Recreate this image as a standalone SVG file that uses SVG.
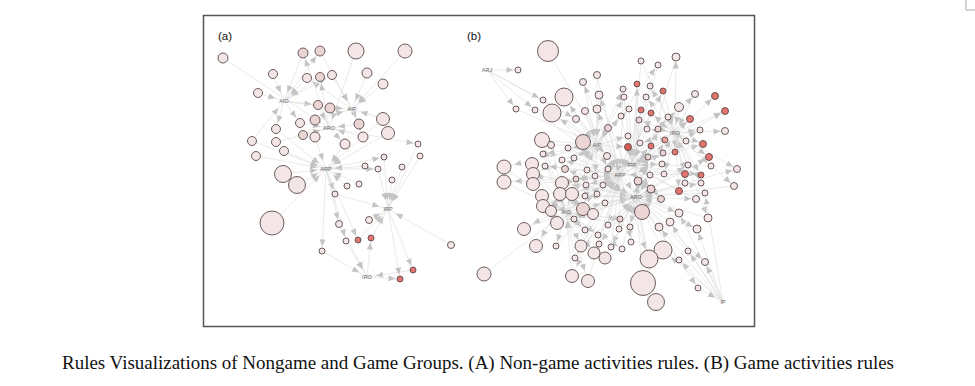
<svg xmlns="http://www.w3.org/2000/svg" width="975" height="386" viewBox="0 0 975 386">
<style>
#edges path{stroke:#dcdcdc;stroke-width:.6;fill:none}
.h{marker-end:url(#h)}.s{marker-end:url(#s)}.m{marker-end:url(#m)}.l{marker-end:url(#l)}
marker path{fill:#c4c4c4}
circle{stroke:#5c4b4b;stroke-width:.9;fill:#f4e6e6}
circle.c2{fill:#ebd4d4}circle.r{fill:#e2736e}circle.d{fill:#d55a56}circle.k{fill:#ec9d99}
.hub{font-family:"Liberation Sans",Arial,sans-serif;font-size:5.5px;fill:#666;text-anchor:middle}
.pl{font-family:"Liberation Sans",Arial,sans-serif;font-size:11.5px;fill:#111}
.cap{font-family:"Liberation Serif","Times New Roman",serif;font-size:18px;fill:#111}
</style>
<defs>
<marker id="h" markerUnits="userSpaceOnUse" markerWidth="30" markerHeight="8" refX="16" refY="3" orient="auto" overflow="visible"><path d="M0,0L7,3L0,6z"/></marker>
<marker id="s" markerUnits="userSpaceOnUse" markerWidth="30" markerHeight="8" refX="11.5" refY="3" orient="auto" overflow="visible"><path d="M0,0L7,3L0,6z"/></marker>
<marker id="m" markerUnits="userSpaceOnUse" markerWidth="30" markerHeight="8" refX="13.5" refY="3" orient="auto" overflow="visible"><path d="M0,0L7,3L0,6z"/></marker>
<marker id="l" markerUnits="userSpaceOnUse" markerWidth="30" markerHeight="8" refX="17.5" refY="3" orient="auto" overflow="visible"><path d="M0,0L7,3L0,6z"/></marker>
</defs>
<rect width="975" height="386" fill="#fff"/>
<path d="M966 0V10H975" fill="none" stroke="#aaa" stroke-width="1"/>
<rect x="203.5" y="15.5" width="551" height="311" fill="#fff" stroke="#555" stroke-width="1.5"/>
<text class="pl" x="218" y="40">(a)</text>
<text class="pl" x="467" y="40">(b)</text>
<g id="edges">
<path class="h" d="M223 58L329 128"/><path class="h" d="M303 53L284 101"/><path class="m" d="M329 128L303 53"/>
<path class="h" d="M320 51L352 109"/><path class="m" d="M284 101L320 51"/><path class="h" d="M356 51L329 128"/>
<path class="h" d="M405 51L352 109"/><path class="h" d="M273 74L284 101"/><path class="h" d="M307 78L284 101"/>
<path class="m" d="M352 109L307 78"/><path class="m" d="M329 128L320 77"/><path class="h" d="M320 77L284 101"/>
<path class="h" d="M332 75L352 109"/><path class="m" d="M284 101L332 75"/><path class="h" d="M367 73L352 109"/>
<path class="h" d="M383 84L352 109"/><path class="h" d="M258 93L284 101"/><path class="m" d="M284 101L318 105"/>
<path class="h" d="M318 105L329 128"/><path class="h" d="M330 108L352 109"/><path class="m" d="M284 101L330 108"/>
<path class="h" d="M383 119L352 109"/><path class="h" d="M383 119L326 169"/><path class="m" d="M284 101L300 123"/>
<path class="h" d="M300 123L329 128"/><path class="h" d="M315 120L352 109"/><path class="m" d="M352 109L359 124"/>
<path class="h" d="M359 124L329 128"/><path class="m" d="M284 101L276 129"/><path class="h" d="M276 129L326 169"/>
<path class="h" d="M303 135L329 128"/><path class="h" d="M315 137L326 169"/><path class="h" d="M363 137L329 128"/>
<path class="m" d="M352 109L363 137"/><path class="h" d="M388 133L326 169"/><path class="h" d="M252 141L284 101"/>
<path class="h" d="M252 141L326 169"/><path class="h" d="M276 142L329 128"/><path class="h" d="M284 151L326 169"/>
<path class="m" d="M329 128L345 144"/><path class="h" d="M345 144L326 169"/><path class="h" d="M418 144L388 209"/>
<path class="s" d="M329 128L418 144"/><path class="h" d="M256 156L326 169"/><path class="h" d="M384 157L388 209"/>
<path class="s" d="M326 169L384 157"/><path class="h" d="M420 156L388 209"/><path class="h" d="M365 166L326 169"/>
<path class="h" d="M378 169L388 209"/><path class="s" d="M326 169L378 169"/><path class="h" d="M402 167L388 209"/>
<path class="h" d="M283 174L326 169"/><path class="h" d="M297 185L326 169"/><path class="h" d="M347 186L326 169"/>
<path class="h" d="M359 184L326 169"/><path class="h" d="M392 180L388 209"/><path class="h" d="M335 194L388 209"/>
<path class="s" d="M326 169L335 194"/><path class="h" d="M272 223L326 169"/><path class="h" d="M369 220L388 209"/>
<path class="s" d="M326 169L339 224"/><path class="h" d="M339 224L367 277"/><path class="h" d="M358 240L388 209"/>
<path class="s" d="M326 169L358 240"/><path class="h" d="M371 238L388 209"/><path class="s" d="M367 277L371 238"/>
<path class="h" d="M346 241L367 277"/><path class="s" d="M326 169L346 241"/><path class="h" d="M451 245L388 209"/>
<path class="h" d="M322 251L367 277"/><path class="s" d="M326 169L322 251"/><path class="s" d="M388 209L413 270"/>
<path class="s" d="M367 277L400 279"/><path class="h" d="M413 270L367 277"/><path class="s" d="M388 209L400 279"/>

<path class="h" d="M548 51L620 175"/><path class="s" d="M487 70L518 70"/>
<path class="h" d="M641 61L632 165"/><path class="h" d="M641 61L675 133"/>
<path class="h" d="M658 65L632 165"/><path class="s" d="M597 145L658 65"/>
<path class="h" d="M676 57L636 197"/><path class="s" d="M675 133L676 57"/>
<path class="h" d="M597 75L597 145"/><path class="h" d="M597 75L620 175"/>
<path class="h" d="M583 82L597 145"/><path class="s" d="M620 175L583 82"/>
<path class="h" d="M637 84L632 165"/><path class="s" d="M636 197L637 84"/>
<path class="h" d="M623 89L620 175"/><path class="s" d="M597 145L623 89"/>
<path class="h" d="M650 86L632 165"/><path class="s" d="M675 133L650 86"/>
<path class="h" d="M663 91L675 133"/><path class="s" d="M620 175L663 91"/>
<path class="h" d="M564 97L620 175"/><path class="l" d="M597 145L564 97"/>
<path class="h" d="M599 95L597 145"/><path class="s" d="M636 197L599 95"/>
<path class="h" d="M624 97L632 165"/><path class="s" d="M597 145L624 97"/>
<path class="h" d="M646 97L620 175"/><path class="s" d="M675 133L646 97"/>
<path class="h" d="M695 94L675 133"/><path class="s" d="M632 165L695 94"/>
<path class="s" d="M675 133L715 96"/>
<path class="s" d="M487 70L543 100"/><path class="h" d="M543 100L597 145"/>
<path class="s" d="M487 70L516 109"/><path class="h" d="M516 109L597 145"/>
<path class="s" d="M487 70L535 110"/><path class="h" d="M535 110L620 175"/>
<path class="h" d="M552 113L620 175"/><path class="l" d="M597 145L552 113"/>
<path class="h" d="M585 111L597 145"/><path class="h" d="M585 111L636 197"/>
<path class="h" d="M597 109L597 145"/><path class="s" d="M620 175L597 109"/>
<path class="h" d="M629 109L632 165"/><path class="s" d="M597 145L629 109"/>
<path class="h" d="M641 110L632 165"/><path class="h" d="M641 110L675 133"/>
<path class="h" d="M651 113L620 175"/><path class="s" d="M675 133L651 113"/>
<path class="h" d="M679 107L675 133"/><path class="m" d="M620 175L679 107"/>
<path class="s" d="M675 133L725 111"/><path class="s" d="M632 165L725 111"/>
<path class="h" d="M576 119L597 145"/><path class="s" d="M487 70L576 119"/>
<path class="h" d="M621 116L632 165"/><path class="s" d="M597 145L621 116"/>
<path class="h" d="M639 120L636 197"/><path class="s" d="M675 133L639 120"/>
<path class="h" d="M668 117L675 133"/><path class="s" d="M620 175L668 117"/>
<path class="s" d="M675 133L690 119"/><path class="s" d="M632 165L690 119"/>
<path class="h" d="M608 128L597 145"/><path class="h" d="M608 128L620 175"/>
<path class="h" d="M647 129L632 165"/><path class="s" d="M675 133L647 129"/>
<path class="h" d="M658 129L675 133"/><path class="s" d="M636 197L658 129"/>
<path class="s" d="M675 133L700 130"/><path class="s" d="M632 165L700 130"/>
<path class="s" d="M675 133L725 131"/>
<path class="h" d="M542 140L597 145"/><path class="l" d="M566 212L542 140"/>
<path class="h" d="M583 142L620 175"/><path class="l" d="M632 165L583 142"/>
<path class="h" d="M628 136L632 165"/><path class="s" d="M597 145L628 136"/>
<path class="h" d="M640 143L620 175"/><path class="s" d="M675 133L640 143"/>
<path class="h" d="M651 146L675 133"/><path class="s" d="M632 165L651 146"/>
<path class="h" d="M665 140L632 165"/><path class="s" d="M636 197L665 140"/>
<path class="s" d="M675 133L686 141"/><path class="s" d="M620 175L686 141"/>
<path class="s" d="M675 133L703 144"/><path class="s" d="M632 165L703 144"/>
<path class="h" d="M628 147L620 175"/><path class="s" d="M597 145L628 147"/>
<path class="h" d="M551 145L597 145"/><path class="s" d="M566 212L551 145"/>
<path class="h" d="M568 148L620 175"/><path class="s" d="M597 145L568 148"/>
<path class="h" d="M607 156L620 175"/><path class="s" d="M597 145L607 156"/>
<path class="h" d="M648 157L636 197"/><path class="s" d="M632 165L648 157"/>
<path class="h" d="M663 153L675 133"/><path class="s" d="M620 175L663 153"/>
<path class="h" d="M675 152L632 165"/><path class="s" d="M675 133L675 152"/>
<path class="s" d="M675 133L709 157"/><path class="s" d="M636 197L709 157"/>
<path class="h" d="M543 154L566 212"/><path class="s" d="M597 145L543 154"/>
<path class="h" d="M574 158L620 175"/><path class="s" d="M597 145L574 158"/>
<path class="h" d="M504 167L566 212"/><path class="l" d="M597 145L504 167"/>
<path class="h" d="M532 164L620 175"/><path class="l" d="M566 212L532 164"/>
<path class="h" d="M562 160L597 145"/><path class="s" d="M620 175L562 160"/>
<path class="h" d="M662 164L636 197"/><path class="s" d="M632 165L662 164"/>
<path class="h" d="M688 165L675 133"/><path class="s" d="M636 197L688 165"/>
<path class="h" d="M711 166L632 165"/><path class="s" d="M675 133L711 166"/>
<path class="s" d="M675 133L737 169"/><path class="s" d="M636 197L737 169"/>
<path class="h" d="M533 174L636 197"/><path class="l" d="M597 145L533 174"/>
<path class="h" d="M545 166L566 212"/><path class="s" d="M620 175L545 166"/>
<path class="h" d="M565 169L597 145"/><path class="s" d="M636 197L565 169"/>
<path class="h" d="M587 170L620 175"/><path class="s" d="M566 212L587 170"/>
<path class="h" d="M608 169L632 165"/><path class="s" d="M597 145L608 169"/>
<path class="h" d="M685 174L620 175"/><path class="s" d="M675 133L685 174"/>
<path class="s" d="M675 133L701 175"/><path class="s" d="M632 165L701 175"/>
<path class="h" d="M650 175L636 197"/><path class="s" d="M632 165L650 175"/>
<path class="h" d="M664 174L632 165"/><path class="s" d="M675 133L664 174"/>
<path class="h" d="M504 182L566 212"/><path class="l" d="M620 175L504 182"/>
<path class="h" d="M533 184L620 175"/><path class="l" d="M566 212L533 184"/>
<path class="h" d="M576 179L566 212"/><path class="s" d="M620 175L576 179"/>
<path class="h" d="M595 176L636 197"/><path class="s" d="M597 145L595 176"/>
<path class="h" d="M638 181L632 165"/><path class="s" d="M636 197L638 181"/>
<path class="h" d="M685 183L636 197"/><path class="s" d="M675 133L685 183"/>
<path class="s" d="M675 133L701 183"/><path class="s" d="M636 197L701 183"/>
<path class="h" d="M734 186L636 197"/><path class="s" d="M675 133L734 186"/>
<path class="h" d="M562 183L597 145"/><path class="l" d="M636 197L562 183"/>
<path class="h" d="M586 185L566 212"/><path class="s" d="M620 175L586 185"/>
<path class="h" d="M603 185L620 175"/><path class="s" d="M566 212L603 185"/>
<path class="h" d="M651 189L636 197"/><path class="s" d="M632 165L651 189"/>
<path class="h" d="M679 191L632 165"/><path class="s" d="M675 133L679 191"/>
<path class="h" d="M705 193L636 197"/><path class="s" d="M723 302L705 193"/>
<path class="h" d="M542 196L620 175"/><path class="l" d="M566 212L542 196"/>
<path class="h" d="M560 194L636 197"/><path class="l" d="M597 145L560 194"/>
<path class="h" d="M572 194L597 145"/><path class="l" d="M620 175L572 194"/>
<path class="h" d="M585 196L566 212"/><path class="s" d="M636 197L585 196"/>
<path class="h" d="M597 194L620 175"/><path class="s" d="M566 212L597 194"/>
<path class="h" d="M661 199L636 197"/><path class="s" d="M632 165L661 199"/>
<path class="h" d="M696 199L632 165"/><path class="s" d="M636 197L696 199"/>
<path class="h" d="M605 203L636 197"/><path class="s" d="M566 212L605 203"/>
<path class="h" d="M543 206L566 212"/><path class="l" d="M620 175L543 206"/>
<path class="h" d="M551 211L620 175"/><path class="m" d="M636 197L551 211"/>
<path class="h" d="M583 209L636 197"/><path class="l" d="M597 145L583 209"/>
<path class="h" d="M593 214L620 175"/><path class="m" d="M566 212L593 214"/>
<path class="h" d="M642 212L636 197"/><path class="l" d="M620 175L642 212"/>
<path class="s" d="M636 197L679 213"/><path class="s" d="M723 302L679 213"/>
<path class="h" d="M708 218L636 197"/><path class="s" d="M675 133L708 218"/>
<path class="h" d="M557 223L636 197"/><path class="l" d="M620 175L557 223"/>
<path class="h" d="M574 219L620 175"/><path class="s" d="M636 197L574 219"/>
<path class="h" d="M620 219L636 197"/><path class="s" d="M566 212L620 219"/>
<path class="h" d="M670 222L636 197"/><path class="s" d="M723 302L670 222"/>
<path class="h" d="M608 225L620 175"/><path class="s" d="M636 197L608 225"/>
<path class="h" d="M619 229L636 197"/><path class="s" d="M620 175L619 229"/>
<path class="h" d="M630 227L566 212"/><path class="s" d="M636 197L630 227"/>
<path class="h" d="M659 227L636 197"/><path class="s" d="M723 302L659 227"/>
<path class="s" d="M636 197L697 229"/><path class="s" d="M723 302L697 229"/>
<path class="h" d="M524 229L566 212"/><path class="l" d="M620 175L524 229"/>
<path class="h" d="M585 230L620 175"/><path class="s" d="M566 212L585 230"/>
<path class="h" d="M598 235L636 197"/><path class="s" d="M566 212L598 235"/>
<path class="h" d="M631 242L636 197"/><path class="s" d="M620 175L631 242"/>
<path class="h" d="M599 244L566 212"/><path class="s" d="M636 197L599 244"/>
<path class="h" d="M536 246L566 212"/><path class="l" d="M597 145L536 246"/>
<path class="h" d="M556 246L620 175"/><path class="s" d="M566 212L556 246"/>
<path class="h" d="M581 246L636 197"/><path class="m" d="M566 212L581 246"/>
<path class="h" d="M611 247L620 175"/><path class="s" d="M636 197L611 247"/>
<path class="h" d="M622 249L636 197"/><path class="s" d="M566 212L622 249"/>
<path class="h" d="M663 250L636 197"/><path class="l" d="M723 302L663 250"/>
<path class="s" d="M723 302L688 251"/><path class="h" d="M688 251L636 197"/>
<path class="h" d="M594 253L620 175"/><path class="m" d="M566 212L594 253"/>
<path class="h" d="M605 258L636 197"/><path class="m" d="M566 212L605 258"/>
<path class="h" d="M575 258L566 212"/><path class="s" d="M620 175L575 258"/>
<path class="h" d="M649 259L636 197"/><path class="l" d="M620 175L649 259"/>
<path class="h" d="M679 260L636 197"/><path class="s" d="M723 302L679 260"/>
<path class="s" d="M723 302L705 262"/><path class="s" d="M636 197L705 262"/>
<path class="h" d="M484 274L566 212"/>
<path class="h" d="M572 276L566 212"/><path class="l" d="M620 175L572 276"/>
<path class="h" d="M588 281L620 175"/><path class="l" d="M566 212L588 281"/>
<path class="h" d="M643 283L636 197"/>
<path class="h" d="M698 288L723 302"/><path class="s" d="M636 197L698 288"/>
<path class="h" d="M656 302L636 197"/>
</g>
<g id="nodes-a">
<g id="a1"><circle cx="223" cy="58" r="5"/></g><g id="a2"><circle class="c2" cx="303" cy="53" r="5"/></g>
<g id="a3"><circle class="c2" cx="320" cy="51" r="5"/></g><g id="a4"><circle cx="356" cy="51" r="8"/></g>
<g id="a5"><circle cx="405" cy="51" r="7"/></g><g id="a6"><circle cx="273" cy="74" r="4.5"/></g>
<g id="a7"><circle cx="307" cy="78" r="4.5"/></g><g id="a8"><circle class="c2" cx="320" cy="77" r="4.5"/></g>
<g id="a9"><circle cx="332" cy="75" r="4.5"/></g><g id="a10"><circle cx="367" cy="73" r="5"/></g>
<g id="a11"><circle cx="383" cy="84" r="5"/></g><g id="a12"><circle cx="258" cy="93" r="4.5"/></g>
<g id="a13"><circle class="c2" cx="318" cy="105" r="4.5"/></g><g id="a14"><circle class="c2" cx="330" cy="108" r="5"/></g>
<g id="a15"><circle cx="383" cy="119" r="6.5"/></g><g id="a16"><circle cx="300" cy="123" r="4.5"/></g>
<g id="a17"><circle class="c2" cx="315" cy="120" r="5"/></g><g id="a18"><circle class="c2" cx="359" cy="124" r="5"/></g>
<g id="a19"><circle cx="276" cy="129" r="4.5"/></g><g id="a20"><circle class="c2" cx="303" cy="135" r="4.5"/></g>
<g id="a21"><circle cx="315" cy="137" r="5"/></g><g id="a22"><circle cx="363" cy="137" r="5"/></g>
<g id="a23"><circle cx="388" cy="133" r="6.5"/></g><g id="a24"><circle cx="252" cy="141" r="4.5"/></g>
<g id="a25"><circle cx="276" cy="142" r="4.5"/></g><g id="a26"><circle cx="284" cy="151" r="4.5"/></g>
<g id="a27"><circle cx="345" cy="144" r="5"/></g><g id="a28"><circle cx="418" cy="144" r="3"/></g>
<g id="a29"><circle cx="256" cy="156" r="4.5"/></g><g id="a30"><circle cx="384" cy="157" r="3"/></g>
<g id="a31"><circle cx="420" cy="156" r="3"/></g><g id="a32"><circle cx="365" cy="166" r="3"/></g>
<g id="a33"><circle cx="378" cy="169" r="3"/></g><g id="a34"><circle cx="402" cy="167" r="3"/></g>
<g id="a35"><circle cx="283" cy="174" r="8.5"/></g><g id="a36"><circle cx="297" cy="185" r="8.5"/></g>
<g id="a37"><circle cx="347" cy="186" r="3"/></g><g id="a38"><circle cx="359" cy="184" r="3"/></g>
<g id="a39"><circle cx="392" cy="180" r="3"/></g><g id="a40"><circle cx="335" cy="194" r="3"/></g>
<g id="a41"><circle cx="272" cy="223" r="12"/></g><g id="a42"><circle cx="369" cy="220" r="3.5"/></g>
<g id="a43"><circle cx="339" cy="224" r="3.5"/></g><g id="a44"><circle class="r" cx="358" cy="240" r="3"/></g>
<g id="a45"><circle class="r" cx="371" cy="238" r="3"/></g><g id="a46"><circle cx="346" cy="241" r="3"/></g>
<g id="a47"><circle cx="451" cy="245" r="3.5"/></g><g id="a48"><circle cx="322" cy="251" r="3"/></g>
<g id="a49"><circle class="r" cx="413" cy="270" r="3"/></g><g id="a50"><circle class="r" cx="400" cy="279" r="3"/></g>
<g id="a-AIO"><text class="hub" x="284" y="103">AIO</text></g><g id="a-AIP"><text class="hub" x="352" y="111">AIP</text></g>
<g id="a-ARO"><text class="hub" x="329" y="130">ARO</text></g><g id="a-ARP"><text class="hub" x="326" y="171">ARP</text></g>
<g id="a-IRP"><text class="hub" x="388" y="211">IRP</text></g><g id="a-IRO"><text class="hub" x="367" y="279">IRO</text></g>
</g>
<g id="nodes-b">
<g id="b1"><circle cx="548" cy="51" r="10.5"/></g><g id="b2"><circle cx="518" cy="70" r="3"/></g>
<g id="b3"><circle cx="641" cy="61" r="3"/></g><g id="b4"><circle cx="658" cy="65" r="3"/></g>
<g id="b5"><circle cx="676" cy="57" r="4"/></g><g id="b6"><circle cx="597" cy="75" r="3.5"/></g>
<g id="b7"><circle cx="583" cy="82" r="3.5"/></g><g id="b8"><circle class="r" cx="637" cy="84" r="3"/></g>
<g id="b9"><circle cx="623" cy="89" r="3"/></g><g id="b10"><circle cx="650" cy="86" r="3"/></g>
<g id="b11"><circle class="r" cx="663" cy="91" r="3"/></g><g id="b12"><circle cx="564" cy="97" r="9"/></g>
<g id="b13"><circle cx="599" cy="95" r="4"/></g><g id="b14"><circle cx="624" cy="97" r="3"/></g>
<g id="b15"><circle cx="646" cy="97" r="3"/></g><g id="b16"><circle cx="695" cy="94" r="3.5"/></g>
<g id="b17"><circle class="r" cx="715" cy="96" r="3.5"/></g><g id="b18"><circle cx="543" cy="100" r="3"/></g>
<g id="b19"><circle cx="516" cy="109" r="3"/></g><g id="b20"><circle cx="535" cy="110" r="3"/></g>
<g id="b21"><circle cx="552" cy="113" r="9"/></g><g id="b22"><circle cx="585" cy="111" r="3.5"/></g>
<g id="b23"><circle cx="597" cy="109" r="4"/></g><g id="b24"><circle cx="629" cy="109" r="3"/></g>
<g id="b25"><circle class="r" cx="641" cy="110" r="3"/></g><g id="b26"><circle class="r" cx="651" cy="113" r="3"/></g>
<g id="b27"><circle cx="679" cy="107" r="4.5"/></g><g id="b28"><circle class="r" cx="725" cy="111" r="3.5"/></g>
<g id="b29"><circle cx="576" cy="119" r="3.5"/></g><g id="b30"><circle cx="621" cy="116" r="3"/></g>
<g id="b31"><circle class="c2" cx="639" cy="120" r="3"/></g><g id="b32"><circle cx="668" cy="117" r="3"/></g>
<g id="b33"><circle class="r" cx="690" cy="119" r="3.5"/></g><g id="b34"><circle class="c2" cx="608" cy="128" r="3.5"/></g>
<g id="b35"><circle cx="647" cy="129" r="3"/></g><g id="b36"><circle class="c2" cx="658" cy="129" r="3"/></g>
<g id="b37"><circle cx="700" cy="130" r="3"/></g><g id="b38"><circle cx="725" cy="131" r="3.5"/></g>
<g id="b39"><circle cx="542" cy="140" r="7.5"/></g><g id="b40"><circle class="c2" cx="583" cy="142" r="7.5"/></g>
<g id="b41"><circle cx="628" cy="136" r="3"/></g><g id="b42"><circle cx="640" cy="143" r="3"/></g>
<g id="b43"><circle class="r" cx="651" cy="146" r="3"/></g><g id="b44"><circle class="k" cx="665" cy="140" r="3"/></g>
<g id="b45"><circle cx="686" cy="141" r="3"/></g><g id="b46"><circle class="r" cx="703" cy="144" r="3.5"/></g>
<g id="b47"><circle class="d" cx="628" cy="147" r="3.5"/></g><g id="b48"><circle cx="551" cy="145" r="3.5"/></g>
<g id="b49"><circle cx="568" cy="148" r="3"/></g><g id="b50"><circle cx="607" cy="156" r="3.5"/></g>
<g id="b51"><circle class="c2" cx="648" cy="157" r="3"/></g><g id="b52"><circle class="c2" cx="663" cy="153" r="3"/></g>
<g id="b53"><circle class="r" cx="675" cy="152" r="3"/></g><g id="b54"><circle class="r" cx="709" cy="157" r="3.5"/></g>
<g id="b55"><circle cx="543" cy="154" r="3"/></g><g id="b56"><circle cx="574" cy="158" r="3"/></g>
<g id="b57"><circle cx="504" cy="167" r="7"/></g><g id="b58"><circle cx="532" cy="164" r="6.5"/></g>
<g id="b59"><circle cx="562" cy="160" r="3"/></g><g id="b60"><circle cx="662" cy="164" r="3"/></g>
<g id="b61"><circle cx="688" cy="165" r="3"/></g><g id="b62"><circle cx="711" cy="166" r="3"/></g>
<g id="b63"><circle cx="737" cy="169" r="3.5"/></g><g id="b64"><circle cx="533" cy="174" r="6.5"/></g>
<g id="b65"><circle cx="545" cy="166" r="3"/></g><g id="b66"><circle class="c2" cx="565" cy="169" r="3.5"/></g>
<g id="b67"><circle cx="587" cy="170" r="3"/></g><g id="b68"><circle cx="608" cy="169" r="3"/></g>
<g id="b69"><circle class="r" cx="685" cy="174" r="3.5"/></g><g id="b70"><circle class="r" cx="701" cy="175" r="3"/></g>
<g id="b71"><circle cx="650" cy="175" r="3"/></g><g id="b72"><circle cx="664" cy="174" r="3"/></g>
<g id="b73"><circle cx="504" cy="182" r="7"/></g><g id="b74"><circle cx="533" cy="184" r="6.5"/></g>
<g id="b75"><circle class="c2" cx="576" cy="179" r="3"/></g><g id="b76"><circle cx="595" cy="176" r="3"/></g>
<g id="b77"><circle class="c2" cx="638" cy="181" r="4"/></g><g id="b78"><circle cx="685" cy="183" r="3"/></g>
<g id="b79"><circle cx="701" cy="183" r="3"/></g><g id="b80"><circle cx="734" cy="186" r="3.5"/></g>
<g id="b81"><circle cx="562" cy="183" r="6.5"/></g><g id="b82"><circle cx="586" cy="185" r="3"/></g>
<g id="b83"><circle cx="603" cy="185" r="3"/></g><g id="b84"><circle class="c2" cx="651" cy="189" r="4"/></g>
<g id="b85"><circle class="r" cx="679" cy="191" r="3.5"/></g><g id="b86"><circle cx="705" cy="193" r="3"/></g>
<g id="b87"><circle cx="542" cy="196" r="6.5"/></g><g id="b88"><circle cx="560" cy="194" r="6.5"/></g>
<g id="b89"><circle cx="572" cy="194" r="6.5"/></g><g id="b90"><circle cx="585" cy="196" r="3"/></g>
<g id="b91"><circle cx="597" cy="194" r="3"/></g><g id="b92"><circle class="c2" cx="661" cy="199" r="3.5"/></g>
<g id="b93"><circle cx="696" cy="199" r="3.5"/></g><g id="b94"><circle cx="605" cy="203" r="3"/></g>
<g id="b95"><circle cx="543" cy="206" r="6.5"/></g><g id="b96"><circle cx="551" cy="211" r="5.5"/></g>
<g id="b97"><circle class="c2" cx="583" cy="209" r="6.5"/></g><g id="b98"><circle cx="593" cy="214" r="5.5"/></g>
<g id="b99"><circle class="c2" cx="642" cy="212" r="7.5"/></g><g id="b100"><circle cx="679" cy="213" r="4"/></g>
<g id="b101"><circle cx="708" cy="218" r="4"/></g><g id="b102"><circle cx="557" cy="223" r="6.5"/></g>
<g id="b103"><circle cx="574" cy="219" r="3"/></g><g id="b104"><circle class="c2" cx="620" cy="219" r="3"/></g>
<g id="b105"><circle cx="670" cy="222" r="4"/></g><g id="b106"><circle cx="608" cy="225" r="3"/></g>
<g id="b107"><circle cx="619" cy="229" r="3"/></g><g id="b108"><circle cx="630" cy="227" r="3"/></g>
<g id="b109"><circle cx="659" cy="227" r="4"/></g><g id="b110"><circle cx="697" cy="229" r="4"/></g>
<g id="b111"><circle cx="524" cy="229" r="6.5"/></g><g id="b112"><circle cx="585" cy="230" r="3"/></g>
<g id="b113"><circle cx="598" cy="235" r="3"/></g><g id="b114"><circle cx="631" cy="242" r="3"/></g>
<g id="b115"><circle cx="599" cy="244" r="3"/></g><g id="b116"><circle cx="536" cy="246" r="6.5"/></g>
<g id="b117"><circle cx="556" cy="246" r="3"/></g><g id="b118"><circle cx="581" cy="246" r="6"/></g>
<g id="b119"><circle cx="611" cy="247" r="3"/></g><g id="b120"><circle cx="622" cy="249" r="3"/></g>
<g id="b121"><circle cx="663" cy="250" r="9"/></g><g id="b122"><circle cx="688" cy="251" r="3"/></g>
<g id="b123"><circle cx="594" cy="253" r="6"/></g><g id="b124"><circle cx="605" cy="258" r="6"/></g>
<g id="b125"><circle cx="575" cy="258" r="3"/></g><g id="b126"><circle cx="649" cy="259" r="9"/></g>
<g id="b127"><circle cx="679" cy="260" r="3"/></g><g id="b128"><circle cx="705" cy="262" r="3.5"/></g>
<g id="b129"><circle cx="484" cy="274" r="7"/></g><g id="b130"><circle cx="572" cy="276" r="6.5"/></g>
<g id="b131"><circle cx="588" cy="281" r="6.5"/></g><g id="b132"><circle cx="643" cy="283" r="12.5"/></g>
<g id="b133"><circle cx="698" cy="288" r="3"/></g><g id="b134"><circle cx="656" cy="302" r="8.5"/></g>
<g id="b-ARJ"><text class="hub" x="487" y="72">ARJ</text></g><g id="b-AIP"><text class="hub" x="597" y="147">AIP</text></g>
<g id="b-IRO"><text class="hub" x="675" y="135">IRO</text></g><g id="b-IRP"><text class="hub" x="632" y="167">IRP</text></g>
<g id="b-ARP"><text class="hub" x="620" y="177">ARP</text></g><g id="b-ARO"><text class="hub" x="636" y="199">ARO</text></g>
<g id="b-AIO"><text class="hub" x="566" y="214">AIO</text></g><g id="b-IP"><text class="hub" x="723" y="304">IP</text></g>
</g>
<text class="cap" x="62" y="369" textLength="832" lengthAdjust="spacingAndGlyphs">Rules Visualizations of Nongame and Game Groups. (A) Non-game activities rules. (B) Game activities rules</text>
</svg>
